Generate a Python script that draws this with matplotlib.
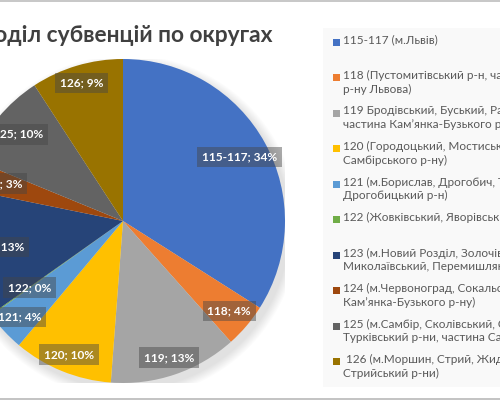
import matplotlib
matplotlib.use("Agg")
import matplotlib.pyplot as plt
from matplotlib.patches import Rectangle, Circle
import numpy as np

plt.rcParams['font.family'] = ['Lato', 'DejaVu Sans']

# ---- data ----
districts = ["115-117", "118", "119", "120", "121", "122", "123", "124", "125", "126"]
shares = [34.0, 4.4, 12.8, 9.9, 4.0, 0.1, 13.0, 3.0, 9.6, 9.2]
legend_labels = [
    "115-117 (м.Львів)",
    "118 (Пустомитівський р-н, частина\nр-ну Львова)",
    "119 Бродівський, Буський, Радехівський,\nчастина Кам’янка-Бузького р-ну",
    "120 (Городоцький, Мостиський, частина\nСамбірського р-ну)",
    "121 (м.Борислав, Дрогобич, Трускавець,\nДрогобицький р-н)",
    "122 (Жовківський, Яворівський р-ни)",
    "123 (м.Новий Розділ, Золочівський,\nМиколаївський, Перемишлянський р-ни)",
    "124 (м.Червоноград, Сокальський, частина\nКам’янка-Бузького р-ну)",
    "125 (м.Самбір, Сколівський, Старосамбірський,\nТурківський р-ни, частина Самбірського р-ну)",
    " 126 (м.Моршин, Стрий, Жидачівський,\nСтрийський р-ни)",
]
title = "Розподіл субвенцій по округах"

colors = ["#4472C4", "#ED7D31", "#A5A5A5", "#FFC000", "#5B9BD5",
          "#70AD47", "#264478", "#9E480E", "#636363", "#997300"]
label_dist = [0.82, 0.86, 0.89, 0.89, 0.87, 0.71, 0.78, 0.79, 0.84, 0.89]

W, H = 500, 400
fig = plt.figure(figsize=(5, 4), dpi=100)
fig.patch.set_facecolor("white")

# legend background
fig.patches.append(Rectangle((323 / W, 1 - 387 / H), (W - 323) / W, (387 - 28) / H,
                             transform=fig.transFigure, facecolor="#f9f9f9",
                             edgecolor="none", zorder=0))
# top / bottom frame lines
fig.patches.append(Rectangle((0, 1 - 2 / H), 1, 2 / H, transform=fig.transFigure,
                             facecolor="#c8c8c8", edgecolor="none", zorder=0))
fig.patches.append(Rectangle((0, 0), 1, 2.5 / H, transform=fig.transFigure,
                             facecolor="#c4c4c4", edgecolor="none", zorder=0))

cx, cy, r = 123, 221, 162
ax = fig.add_axes([(cx - r) / W, (H - cy - r) / H, 2 * r / W, 2 * r / H])

wedges, _ = ax.pie(shares, colors=colors, startangle=90, counterclock=False,
                   radius=1.0, wedgeprops=dict(linewidth=0))
for w in wedges:
    w.set_zorder(1)
ax.set_xlim(-1, 1)
ax.set_ylim(-1, 1)
ax.set_aspect("equal")
ax.axis("off")

# soft shadow
for k in range(10):
    ax.add_patch(Circle((0.025, -0.035), 1.0 + 0.006 * (10 - k), facecolor="black",
                        alpha=0.012, edgecolor="none", zorder=0))

total = sum(shares)
for w, name, v, d in zip(wedges, districts, shares, label_dist):
    ang = np.deg2rad((w.theta1 + w.theta2) / 2)
    x, y = d * np.cos(ang), d * np.sin(ang)
    pct = int(round(100 * v / total))
    ax.text(x, y, f"{name}; {pct}%", ha="center", va="center", color="white",
            fontsize=8.6, fontweight="bold", zorder=5,
            bbox=dict(boxstyle="square,pad=0.4", facecolor="#454545", alpha=0.45,
                      edgecolor="none"))

fig.text(272 / W, 1 - 35 / H, title, ha="right", va="center", fontsize=16.4,
         fontweight="bold", color="#404040")

y0, step = 42, 35.5
for i, (lab, c) in enumerate(zip(legend_labels, colors)):
    yc = y0 + i * step
    fig.patches.append(Rectangle((333 / W, 1 - (yc + 3.5) / H), 7 / W, 7 / H,
                                 transform=fig.transFigure, facecolor=c,
                                 edgecolor="none", zorder=2))
    fig.text(343 / W, 1 - (yc - 7.5) / H, lab, ha="left", va="top", fontsize=8.5,
             color="#595959", linespacing=1.27)

fig.savefig("out.png", dpi=100)
